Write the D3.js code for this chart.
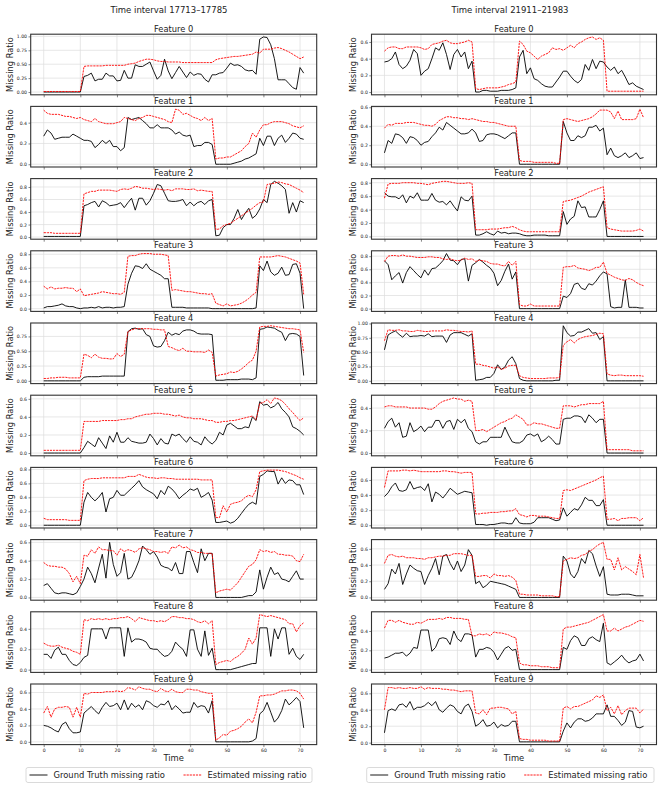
<!DOCTYPE html>
<html>
<head>
<meta charset="utf-8">
<script src="https://cdn.jsdelivr.net/npm/d3@7"></script>
<style>
  body { margin: 0; background: #fff; }
  svg { font-family: "DejaVu Sans", sans-serif; }
</style>
</head>
<body>
<script>
const width = 665;
const height = 789;

// ---- data ----
const timeSteps = d3.range(72);
const xTickValues = [0, 10, 20, 30, 40, 50, 60, 70];
const featureNames = d3.range(10).map(i => `Feature ${i}`);
const intervalTitles = ["Time interval 17713\u201317785", "Time interval 21911\u201321983"];
const legendLabels = ["Ground Truth missing ratio", "Estimated missing ratio"];
const leftTickStep = [0.25, 0.2, 0.2, 0.2, 0.25, 0.2, 0.2, 0.2, 0.2, 0.2];
const rightTickStep = [0.2, 0.2, 0.2, 0.2, 0.25, 0.2, 0.2, 0.2, 0.2, 0.2];

// interval 17713-17785, ground truth
const leftTruth = [
  [0,0,0,0,0,0,0,0,0,0,0,0.28, 0.30,0.34,0.20,0.23,0.23,0.34,0.29,0.29,0.20,0.21,0.39,0.25,
   0.25,0.49,0.46,0.46,0.50,0.54,0.38,0.23,0.30,0.59,0.38,0.24, 0.35,0.46,0.36,0.26,0.36,0.30,0.33,0.32,0.23,0.18,0.31,0.31,
   0.34,0.35,0.43,0.52,0.48,0.49,0.46,0.40,0.38,0.39,0.32,0.95, 0.99,0.98,0.85,0.60,0.22,0.22,0.22,0.15,0.08,0.05,0.44,0.34],
  [0.27,0.33,0.30,0.24,0.25,0.26,0.26,0.26,0.29,0.27,0.25,0.23, 0.23,0.22,0.16,0.19,0.23,0.20,0.23,0.17,0.17,0.13,0.16,0.45,
   0.43,0.44,0.45,0.42,0.39,0.35,0.35,0.38,0.35,0.35,0.35,0.33, 0.29,0.31,0.28,0.27,0.28,0.17,0.18,0.18,0.21,0.21,0.19,0,
   0,0,0,0,0.01,0.02,0.03,0.05,0.06,0.08,0.10,0.25, 0.18,0.27,0.27,0.18,0.25,0.28,0.21,0.25,0.30,0.29,0.25,0.24],
  [0.01,0.01,0.01,0.01,0.01,0.01,0.01,0.01,0.01,0.01,0.01,0.50, 0.52,0.55,0.57,0.48,0.58,0.55,0.50,0.51,0.52,0.55,0.47,0.55,
   0.62,0.43,0.62,0.62,0.51,0.58,0.70,0.84,0.82,0.70,0.58,0.57, 0.57,0.58,0.60,0.50,0.56,0.50,0.55,0.57,0.52,0.58,0.60,0.02,
   0.03,0.15,0.20,0.20,0.30,0.44,0.28,0.38,0.46,0.30,0.35,0.45, 0.60,0.55,0.84,0.89,0.86,0.82,0.76,0.38,0.55,0.40,0.58,0.55],
  [0.01,0.03,0.03,0.04,0.05,0.07,0.04,0.03,0.03,0.01,0,0.01, 0.01,0.02,0.01,0.03,0.01,0.02,0.02,0.01,0.02,0.02,0.03,0.36,
   0.52,0.63,0.62,0.59,0.66,0.58,0.55,0.52,0.49,0.44,0.44,0.02, 0.02,0.02,0.02,0.01,0.01,0.01,0.01,0.01,0.01,0.01,0,0,
   0,0,0,0,0,0,0,0,0,0,0.01,0.63, 0.56,0.70,0.54,0.49,0.52,0.61,0.49,0.50,0.65,0.66,0.52,0],
  [0,0,0,0,0,0,0,0,0,0,0,0.06, 0.07,0.07,0.07,0.07,0.08,0.08,0.08,0.08,0.08,0.08,0.08,0.83,
   0.88,0.89,0.87,0.88,0.78,0.75,0.59,0.57,0.58,0.68,0.82,0.77, 0.80,0.78,0.84,0.86,0.86,0.84,0.80,0.79,0.79,0.79,0.78,0.01,
   0.01,0.01,0.02,0.02,0.02,0.02,0.03,0.03,0.03,0.02,0.05,0.87, 0.88,0.91,0.90,0.89,0.85,0.82,0.68,0.79,0.80,0.79,0.75,0.09],
  [0,0,0,0,0,0,0,0,0,0,0,0.06, 0.13,0.10,0.07,0.17,0.11,0.05,0.19,0.12,0.23,0.12,0.12,0.17,
   0.13,0.12,0.11,0.11,0.12,0.21,0.16,0.09,0.16,0.11,0.10,0.21, 0.19,0.21,0.16,0.12,0.18,0.13,0.12,0.09,0.18,0.13,0.10,0.14,
   0.23,0.20,0.31,0.33,0.30,0.27,0.27,0.29,0.28,0.40,0.36,0.57, 0.53,0.54,0.50,0.52,0.56,0.49,0.45,0.40,0.29,0.27,0.24,0.20],
  [0,0,0,0,0,0,0,0,0,0,0,0.33, 0.47,0.40,0.35,0.40,0.47,0.19,0.38,0.40,0.50,0.43,0.43,0.48,
   0.53,0.58,0.64,0.55,0.51,0.48,0.45,0.38,0.50,0.44,0.56,0.52, 0.46,0.38,0.43,0.47,0.52,0.50,0.53,0.40,0.43,0.47,0.36,0.04,
   0.04,0.05,0.06,0.03,0.05,0.10,0.17,0.24,0.30,0.33,0.30,0.70, 0.73,0.78,0.77,0.77,0.59,0.68,0.60,0.65,0.64,0.58,0.58,0.44],
  [0.13,0.15,0.10,0.05,0.04,0.05,0.05,0.04,0.03,0.05,0.12,0.20, 0.33,0.26,0.16,0.32,0.47,0.21,0.60,0.36,0.23,0.27,0.48,0.20,
   0.22,0.30,0.40,0.56,0.52,0.47,0.50,0.44,0.35,0.33,0.32,0.29, 0.38,0.26,0.26,0.50,0.50,0.38,0.27,0.53,0.40,0.48,0.48,0,
   0,0,0,0,0,0,0,0.01,0.02,0.02,0.06,0.30, 0.09,0.22,0.33,0.25,0.27,0.20,0.19,0.17,0.23,0.29,0.20,0.20],
  [0.15,0.15,0.11,0.19,0.22,0.15,0.15,0.09,0.05,0.04,0.07,0.12, 0.14,0.40,0.40,0.40,0.40,0.30,0.41,0.41,0.41,0.41,0.13,0.41,
   0.27,0.30,0.30,0.29,0.27,0.21,0.20,0.20,0.16,0.13,0.14,0.18, 0.27,0.23,0.20,0.13,0.39,0.39,0.20,0.13,0.38,0.14,0.21,0,
   0,0,0,0,0.01,0.02,0.03,0.04,0.05,0.06,0.06,0.41, 0.41,0.41,0.13,0.40,0.30,0.41,0.41,0.15,0.21,0.13,0.10,0.15],
  [0.20,0.19,0.17,0.14,0.12,0.21,0.24,0.16,0.11,0.11,0.12,0.35, 0.39,0.43,0.38,0.34,0.42,0.48,0.43,0.44,0.47,0.39,0.51,0.39,
   0.47,0.42,0.45,0.39,0.50,0.48,0.44,0.42,0.46,0.45,0.50,0.39, 0.44,0.40,0.35,0.36,0.36,0.48,0.42,0.44,0.43,0.35,0.50,0,
   0,0,0,0,0,0,0,0,0,0.01,0.04,0.34, 0.38,0.48,0.36,0.24,0.29,0.38,0.52,0.45,0.49,0.54,0.49,0.17]
];

// interval 17713-17785, estimated
const leftEst = [
  [0.01,0.01,0.01,0.01,0.01,0.01,0.01,0.01,0.01,0.01,0.01,0.46, 0.47,0.47,0.47,0.47,0.47,0.48,0.48,0.48,0.48,0.48,0.48,0.50,
   0.51,0.52,0.55,0.57,0.59,0.59,0.58,0.56,0.55,0.55,0.54,0.54, 0.54,0.54,0.53,0.53,0.53,0.53,0.53,0.53,0.53,0.53,0.53,0.58,
   0.60,0.61,0.62,0.63,0.64,0.64,0.65,0.66,0.67,0.68,0.72,0.70, 0.77,0.77,0.77,0.79,0.80,0.78,0.75,0.72,0.68,0.64,0.60,0.63],
  [0.52,0.49,0.48,0.48,0.48,0.47,0.46,0.46,0.45,0.44,0.45,0.43, 0.42,0.41,0.44,0.41,0.40,0.39,0.39,0.39,0.40,0.41,0.45,0.44,
   0.43,0.42,0.44,0.45,0.47,0.47,0.46,0.45,0.44,0.43,0.41,0.40, 0.53,0.52,0.48,0.49,0.47,0.45,0.44,0.42,0.45,0.42,0.44,0.05,
   0.06,0.06,0.07,0.07,0.09,0.11,0.13,0.17,0.20,0.30,0.26,0.33, 0.38,0.38,0.40,0.41,0.41,0.41,0.40,0.39,0.37,0.36,0.35,0.37],
  [0.07,0.07,0.07,0.06,0.06,0.06,0.06,0.06,0.06,0.06,0.06,0.69, 0.71,0.73,0.73,0.75,0.75,0.75,0.75,0.74,0.73,0.76,0.77,0.76,
   0.78,0.81,0.80,0.78,0.78,0.77,0.76,0.77,0.76,0.75,0.76,0.74, 0.77,0.77,0.77,0.76,0.76,0.77,0.74,0.75,0.74,0.73,0.73,0.12,
   0.13,0.18,0.20,0.22,0.26,0.30,0.34,0.38,0.42,0.46,0.51,0.55, 0.56,0.84,0.85,0.86,0.88,0.87,0.85,0.84,0.81,0.78,0.75,0.71],
  [0.33,0.29,0.32,0.29,0.30,0.30,0.31,0.30,0.30,0.25,0.29,0.19, 0.20,0.21,0.22,0.23,0.25,0.24,0.23,0.22,0.22,0.21,0.24,0.77,
   0.78,0.78,0.80,0.81,0.81,0.81,0.80,0.80,0.80,0.79,0.78,0.27, 0.28,0.27,0.26,0.25,0.25,0.24,0.23,0.22,0.22,0.21,0.22,0.08,
   0.06,0.04,0.07,0.04,0.05,0.06,0.08,0.11,0.15,0.20,0.24,0.76, 0.76,0.76,0.76,0.77,0.78,0.77,0.76,0.74,0.72,0.70,0.67,0.21],
  [0.04,0.04,0.05,0.05,0.06,0.06,0.06,0.05,0.05,0.05,0.05,0.45, 0.43,0.39,0.45,0.40,0.38,0.38,0.37,0.37,0.46,0.41,0.45,0.83,
   0.86,0.88,0.88,0.88,0.88,0.88,0.87,0.87,0.86,0.86,0.58,0.56, 0.53,0.51,0.55,0.50,0.50,0.49,0.49,0.49,0.48,0.52,0.48,0.08,
   0.10,0.11,0.12,0.15,0.14,0.16,0.20,0.25,0.31,0.35,0.50,0.91, 0.92,0.92,0.93,0.92,0.91,0.90,0.89,0.88,0.88,0.87,0.86,0.48],
  [0.03,0.03,0.03,0.03,0.03,0.03,0.03,0.03,0.03,0.03,0.03,0.35, 0.35,0.35,0.35,0.35,0.36,0.36,0.36,0.36,0.36,0.37,0.37,0.38,
   0.38,0.40,0.41,0.42,0.43,0.43,0.44,0.44,0.44,0.43,0.43,0.42, 0.41,0.42,0.40,0.39,0.39,0.38,0.38,0.38,0.37,0.36,0.36,0.34,
   0.34,0.35,0.35,0.36,0.36,0.37,0.38,0.39,0.40,0.41,0.37,0.55, 0.56,0.59,0.55,0.61,0.60,0.58,0.54,0.49,0.45,0.40,0.36,0.39],
  [0.10,0.08,0.08,0.08,0.08,0.08,0.08,0.07,0.07,0.07,0.07,0.64, 0.66,0.67,0.67,0.67,0.68,0.68,0.68,0.68,0.68,0.68,0.68,0.70,
   0.70,0.70,0.73,0.71,0.69,0.68,0.68,0.67,0.68,0.68,0.67,0.67, 0.66,0.66,0.66,0.66,0.66,0.66,0.66,0.65,0.65,0.65,0.65,0.11,
   0.11,0.28,0.19,0.30,0.32,0.33,0.35,0.40,0.43,0.41,0.51,0.77, 0.78,0.79,0.79,0.79,0.79,0.78,0.77,0.75,0.73,0.71,0.68,0.66],
  [0.38,0.35,0.34,0.34,0.33,0.33,0.31,0.26,0.17,0.23,0.15,0.46, 0.45,0.52,0.48,0.55,0.52,0.52,0.51,0.51,0.46,0.53,0.50,0.52,
   0.51,0.49,0.53,0.54,0.53,0.52,0.50,0.50,0.49,0.50,0.48,0.55, 0.54,0.57,0.54,0.55,0.52,0.51,0.49,0.49,0.48,0.48,0.48,0.05,
   0.07,0.08,0.09,0.08,0.12,0.16,0.22,0.28,0.34,0.36,0.41,0.52, 0.50,0.51,0.49,0.50,0.47,0.47,0.46,0.46,0.45,0.40,0.39,0.47],
  [0.26,0.24,0.23,0.23,0.24,0.22,0.21,0.20,0.18,0.17,0.15,0.49, 0.48,0.50,0.49,0.50,0.49,0.50,0.49,0.50,0.50,0.51,0.51,0.52,
   0.50,0.47,0.51,0.50,0.49,0.48,0.48,0.47,0.48,0.47,0.49,0.52, 0.52,0.51,0.51,0.50,0.50,0.49,0.47,0.46,0.48,0.45,0.48,0.05,
   0.07,0.08,0.09,0.08,0.11,0.13,0.16,0.20,0.31,0.25,0.31,0.54, 0.53,0.52,0.53,0.52,0.51,0.50,0.49,0.45,0.45,0.37,0.43,0.46],
  [0.35,0.43,0.30,0.40,0.42,0.42,0.43,0.42,0.30,0.42,0.30,0.59, 0.58,0.60,0.60,0.60,0.60,0.61,0.61,0.61,0.62,0.61,0.62,0.66,
   0.65,0.63,0.67,0.65,0.64,0.64,0.62,0.61,0.65,0.62,0.61,0.64, 0.61,0.60,0.60,0.64,0.64,0.63,0.63,0.61,0.60,0.59,0.59,0.02,
   0.05,0.09,0.08,0.13,0.14,0.16,0.19,0.24,0.28,0.23,0.36,0.56, 0.56,0.57,0.57,0.58,0.60,0.62,0.62,0.63,0.63,0.62,0.59,0.52]
];

// interval 21911-21983, ground truth
const rightTruth = [
  [0.36,0.37,0.40,0.48,0.33,0.28,0.31,0.38,0.51,0.46,0.20,0.25, 0.28,0.40,0.53,0.50,0.59,0.45,0.27,0.45,0.51,0.42,0.48,0.28,
   0.37,0,0,0.02,0.02,0.01,0.01,0.01,0.02,0.02,0.02,0.03, 0.05,0.42,0.50,0.22,0.29,0.16,0.14,0.10,0.07,0.06,0.06,0.12,
   0.18,0.25,0.25,0.19,0.14,0.11,0.15,0.33,0.26,0.39,0.28,0.37, 0.36,0.30,0.26,0.30,0.22,0.26,0.18,0.09,0.11,0.07,0.05,0.03],
  [0.12,0.25,0.22,0.32,0.31,0.28,0.22,0.29,0.28,0.25,0.20,0.23, 0.24,0.29,0.33,0.39,0.36,0.44,0.41,0.38,0.35,0.32,0.32,0.33,
   0.37,0.33,0.24,0.25,0.31,0.32,0.32,0.31,0.29,0.27,0.30,0.33, 0.33,0,0,0,0,0,0,0,0,0,0,0,
   0,0.45,0.33,0.25,0.25,0.30,0.28,0.30,0.39,0.39,0.41,0.35, 0.38,0.10,0.17,0.09,0.07,0.09,0.12,0.07,0.09,0.12,0.06,0.07],
  [0.65,0.60,0.59,0.59,0.56,0.62,0.50,0.60,0.57,0.65,0.54,0.54, 0.54,0.64,0.54,0.51,0.52,0.47,0.53,0.45,0.38,0.59,0.54,0.53,
   0.60,0.02,0.02,0.04,0.07,0.04,0.02,0.08,0.05,0.06,0.04,0.05, 0.05,0.04,0.02,0.01,0.01,0.02,0.02,0.02,0.02,0.01,0.01,0.01,
   0.01,0.37,0.18,0.26,0.30,0.53,0.43,0.44,0.29,0.29,0.29,0.40, 0.53,0,0,0,0,0,0,0,0,0,0,0],
  [0.73,0.67,0.44,0.50,0.55,0.39,0.55,0.64,0.58,0.52,0.47,0.59, 0.51,0.61,0.62,0.67,0.73,0.84,0.74,0.73,0.67,0.75,0.76,0.42,
   0.66,0.70,0.75,0.71,0.66,0.62,0.54,0.35,0.43,0.57,0.68,0.45, 0.56,0,0,0,0,0,0,0,0,0,0,0,
   0,0.19,0.17,0.23,0.37,0.39,0.31,0.29,0.38,0.36,0.42,0.50, 0.56,0.53,0.03,0.01,0.02,0.02,0.44,0.02,0.02,0.02,0.01,0.01],
  [0.54,0.80,0.84,0.87,0.81,0.76,0.83,0.77,0.78,0.78,0.79,0.78, 0.82,0.77,0.78,0.78,0.78,0.67,0.80,0.84,0.84,0.84,0.81,0.78,
   0.82,0.01,0.02,0.03,0.06,0.06,0.13,0.28,0.20,0.24,0.36,0.42, 0.30,0.04,0.01,0,0,0,0,0,0,0,0,0.01,
   0.01,0.96,0.84,0.78,0.79,0.85,0.85,0.88,0.91,0.83,0.84,0.72, 0.77,0,0,0,0,0,0,0,0,0,0,0],
  [0.22,0.28,0.31,0.23,0.27,0.14,0.15,0.27,0.19,0.21,0.24,0.19, 0.23,0.23,0.29,0.29,0.22,0.28,0.29,0.21,0.30,0.27,0.30,0.22,
   0.19,0.10,0.08,0.10,0.10,0.14,0.14,0.14,0.14,0.23,0.16,0.10, 0.09,0.09,0.11,0.16,0.17,0.15,0.17,0.10,0.12,0.15,0.12,0.08,
   0.08,0.30,0.31,0.31,0.33,0.33,0.32,0.27,0.34,0.31,0.27,0.30, 0.30,0,0,0,0,0,0,0,0,0,0,0],
  [0.38,0.43,0.51,0.56,0.46,0.45,0.47,0.58,0.48,0.50,0.51,0.46, 0.55,0.31,0.44,0.41,0.36,0.42,0.49,0.45,0.41,0.43,0.45,0.44,
   0.43,0.01,0.01,0.01,0,0.01,0.01,0.02,0.03,0.03,0.02,0.02, 0.10,0.03,0.02,0.02,0.02,0.04,0.10,0.10,0.10,0.10,0.08,0.06,
   0.07,0.23,0.12,0.17,0.22,0.20,0.27,0.37,0.33,0.33,0.26,0.26, 0.34,0,0,0,0,0,0,0,0,0,0,0],
  [0.10,0.17,0.35,0.29,0.42,0.16,0.29,0.40,0.36,0.33,0.32,0.16, 0.27,0.36,0.48,0.28,0.51,0.53,0.42,0.34,0.45,0.32,0.40,0.59,
   0.52,0.17,0.20,0.12,0.15,0.20,0.19,0.18,0.17,0.16,0.14,0.12, 0.10,0,0,0,0,0,0,0,0,0,0,0,
   0,0.51,0.45,0.29,0.24,0.32,0.48,0.42,0.58,0.54,0.39,0.26, 0.38,0.04,0.03,0.03,0.03,0.04,0.04,0.04,0.03,0.02,0.02,0.02],
  [0.12,0.13,0.15,0.17,0.17,0.18,0.14,0.17,0.23,0.22,0.41,0.41, 0.41,0.19,0.23,0.32,0.33,0.32,0.26,0.40,0.32,0.29,0.37,0.37,
   0.36,0.13,0.21,0.21,0.23,0.22,0.18,0.10,0.16,0.22,0.24,0.20, 0.21,0,0,0,0,0,0,0,0,0,0,0,
   0,0.23,0.21,0.30,0.35,0.33,0.25,0.25,0.32,0.34,0.31,0.29, 0.48,0.07,0.05,0.08,0.11,0.15,0.10,0.07,0.09,0.10,0.16,0.09],
  [0.12,0.39,0.41,0.39,0.46,0.47,0.43,0.50,0.40,0.43,0.43,0.45, 0.49,0.45,0.50,0.40,0.37,0.42,0.46,0.44,0.38,0.35,0.44,0.47,
   0.38,0.20,0.23,0.28,0.20,0.21,0.25,0.18,0.22,0.20,0.21,0.26, 0.26,0.01,0.01,0.01,0.01,0.01,0.01,0.01,0.01,0.01,0.01,0.01,
   0.01,0.14,0.24,0.18,0.25,0.29,0.29,0.26,0.27,0.30,0.35,0.35, 0.35,0.46,0.32,0.32,0.27,0.21,0.25,0.39,0.38,0.19,0.18,0.20]
];

// interval 21911-21983, estimated
const rightEst = [
  [0.49,0.53,0.54,0.54,0.52,0.52,0.54,0.54,0.54,0.54,0.53,0.51, 0.52,0.57,0.58,0.59,0.61,0.62,0.59,0.58,0.58,0.59,0.60,0.62,
   0.60,0.04,0.03,0.04,0.05,0.05,0.05,0.05,0.06,0.07,0.09,0.10, 0.12,0.61,0.57,0.49,0.47,0.43,0.39,0.43,0.45,0.47,0.53,0.51,
   0.52,0.50,0.53,0.56,0.53,0.58,0.60,0.63,0.65,0.66,0.63,0.65, 0.62,0.01,0.01,0.01,0.01,0.01,0.01,0.01,0.01,0.01,0.01,0.01],
  [0.38,0.42,0.41,0.43,0.43,0.43,0.44,0.44,0.44,0.43,0.42,0.41, 0.41,0.40,0.42,0.46,0.48,0.50,0.50,0.49,0.49,0.48,0.48,0.47,
   0.48,0.47,0.46,0.45,0.45,0.44,0.44,0.43,0.42,0.41,0.40,0.40, 0.40,0.04,0.03,0.03,0.03,0.02,0.02,0.02,0.02,0.02,0.02,0.01,
   0.01,0.47,0.48,0.47,0.46,0.45,0.46,0.47,0.48,0.50,0.53,0.57, 0.57,0.57,0.55,0.48,0.56,0.47,0.47,0.47,0.47,0.48,0.58,0.49],
  [0.57,0.78,0.79,0.79,0.79,0.80,0.80,0.80,0.80,0.79,0.79,0.78, 0.77,0.79,0.80,0.81,0.82,0.82,0.81,0.80,0.79,0.79,0.79,0.80,
   0.79,0.10,0.10,0.10,0.10,0.11,0.11,0.11,0.12,0.13,0.13,0.15, 0.13,0.10,0.08,0.07,0.07,0.07,0.07,0.07,0.07,0.07,0.07,0.07,
   0.07,0.52,0.53,0.54,0.56,0.58,0.60,0.63,0.66,0.68,0.70,0.72, 0.74,0.13,0.11,0.10,0.09,0.08,0.08,0.08,0.08,0.09,0.11,0.08],
  [0.72,0.80,0.81,0.81,0.80,0.82,0.80,0.80,0.79,0.78,0.78,0.78, 0.79,0.79,0.78,0.78,0.76,0.75,0.76,0.74,0.73,0.74,0.77,0.75,
   0.76,0.72,0.74,0.73,0.72,0.69,0.68,0.68,0.66,0.65,0.72,0.66, 0.72,0.06,0.04,0.04,0.07,0.04,0.04,0.04,0.04,0.04,0.04,0.04,
   0.04,0.63,0.64,0.64,0.66,0.62,0.61,0.60,0.58,0.60,0.63,0.63, 0.71,0.54,0.51,0.48,0.46,0.44,0.43,0.46,0.44,0.40,0.37,0.35],
  [0.70,0.89,0.88,0.88,0.89,0.87,0.87,0.86,0.86,0.88,0.87,0.86, 0.86,0.87,0.87,0.87,0.87,0.89,0.88,0.88,0.87,0.86,0.86,0.85,
   0.87,0.29,0.29,0.27,0.26,0.24,0.22,0.24,0.20,0.22,0.26,0.27, 0.27,0.09,0.06,0.05,0.04,0.04,0.04,0.04,0.04,0.05,0.05,0.05,
   0.06,0.62,0.68,0.72,0.66,0.72,0.75,0.77,0.78,0.79,0.81,0.83, 0.82,0.12,0.10,0.09,0.10,0.10,0.09,0.09,0.09,0.09,0.09,0.08],
  [0.41,0.42,0.42,0.41,0.41,0.41,0.41,0.40,0.40,0.40,0.40,0.40, 0.39,0.39,0.41,0.44,0.46,0.47,0.48,0.49,0.48,0.48,0.46,0.47,
   0.46,0.20,0.20,0.21,0.19,0.21,0.23,0.25,0.27,0.28,0.30,0.31, 0.34,0.32,0.30,0.25,0.25,0.27,0.26,0.26,0.25,0.24,0.23,0.22,
   0.22,0.42,0.42,0.42,0.41,0.42,0.43,0.43,0.44,0.44,0.44,0.44, 0.46,0.03,0.03,0.03,0.03,0.03,0.03,0.03,0.02,0.02,0.02,0.02],
  [0.50,0.72,0.72,0.72,0.72,0.73,0.73,0.72,0.73,0.72,0.71,0.71, 0.71,0.71,0.71,0.71,0.72,0.72,0.71,0.71,0.70,0.69,0.70,0.70,
   0.70,0.15,0.15,0.16,0.16,0.17,0.17,0.17,0.18,0.18,0.19,0.19, 0.22,0.14,0.13,0.11,0.13,0.13,0.12,0.12,0.12,0.11,0.10,0.09,
   0.09,0.46,0.47,0.46,0.48,0.50,0.52,0.54,0.56,0.58,0.60,0.63, 0.65,0.08,0.08,0.09,0.06,0.09,0.09,0.10,0.10,0.10,0.06,0.10],
  [0.42,0.52,0.53,0.51,0.50,0.51,0.49,0.49,0.49,0.48,0.48,0.47, 0.49,0.49,0.50,0.51,0.51,0.52,0.52,0.54,0.54,0.54,0.53,0.52,
   0.52,0.26,0.26,0.27,0.27,0.24,0.29,0.27,0.27,0.26,0.27,0.25, 0.21,0.04,0.04,0.03,0.03,0.03,0.03,0.02,0.02,0.02,0.02,0.01,
   0.01,0.45,0.47,0.49,0.48,0.49,0.52,0.53,0.57,0.59,0.63,0.66, 0.68,0.47,0.47,0.34,0.49,0.34,0.38,0.35,0.32,0.28,0.53,0.24],
  [0.43,0.51,0.51,0.49,0.51,0.49,0.48,0.47,0.47,0.49,0.48,0.50, 0.52,0.52,0.52,0.53,0.52,0.54,0.54,0.53,0.53,0.53,0.52,0.52,
   0.35,0.35,0.37,0.36,0.37,0.35,0.39,0.38,0.38,0.37,0.36,0.34, 0.33,0.07,0.05,0.05,0.04,0.04,0.04,0.03,0.03,0.03,0.02,0.02,
   0.02,0.42,0.44,0.44,0.45,0.46,0.47,0.48,0.49,0.51,0.53,0.55, 0.57,0.40,0.40,0.43,0.40,0.42,0.44,0.45,0.47,0.49,0.51,0.50],
  [0.40,0.67,0.67,0.66,0.67,0.66,0.66,0.67,0.66,0.66,0.68,0.65, 0.67,0.66,0.66,0.66,0.65,0.65,0.64,0.64,0.63,0.62,0.63,0.63,
   0.63,0.36,0.35,0.40,0.34,0.42,0.42,0.43,0.43,0.42,0.41,0.35, 0.38,0.05,0.04,0.04,0.03,0.03,0.03,0.03,0.03,0.02,0.02,0.02,
   0.02,0.42,0.44,0.41,0.44,0.44,0.46,0.48,0.50,0.52,0.57,0.55, 0.58,0.39,0.43,0.35,0.45,0.34,0.39,0.42,0.42,0.42,0.36,0.41]
];

// ---- layout ----
const columns = [
  { title: intervalTitles[0], truth: leftTruth, est: leftEst, tickStep: leftTickStep,
    left: 30.7, right: 316.7, yLabelX: 10, titleX: 169, legendBox: [26, 312] },
  { title: intervalTitles[1], truth: rightTruth, est: rightEst, tickStep: rightTickStep,
    left: 371.5, right: 656.5, yLabelX: 353, titleX: 510, legendBox: [366.7, 654] }
];
const panelTop = 34.2, panelPitch = 72.2, panelH = 60.6;

const svg = d3.select("body")
  .append("svg")
  .attr("width", width)
  .attr("height", height)
  .attr("viewBox", [0, 0, width, height]);

const textColor = "#222";
const estDash = "2.2,0.9";

columns.forEach(col => {
  const x = d3.scaleLinear().domain([-3.55, 74.55]).range([col.left, col.right]);

  svg.append("text")
    .attr("x", col.titleX).attr("y", 13)
    .attr("text-anchor", "middle")
    .attr("font-size", 8.5).attr("fill", textColor)
    .text(col.title);

  d3.range(10).forEach(i => {
    const top = panelTop + i * panelPitch;
    const bottom = top + panelH;
    const truth = col.truth[i], est = col.est[i];
    const [lo, hi] = d3.extent(truth.concat(est));
    const pad = (hi - lo) * 0.05;
    const y = d3.scaleLinear().domain([lo - pad, hi + pad]).range([bottom, top]);
    const step = col.tickStep[i];
    const yTicks = d3.range(0, hi + pad + 1e-9, step).filter(v => v >= lo - pad);
    const fmt = step === 0.25 ? d3.format(".2f") : d3.format(".1f");

    const g = svg.append("g");

    // grid
    g.append("g").selectAll("line").data(xTickValues).join("line")
      .attr("x1", d => x(d)).attr("x2", d => x(d))
      .attr("y1", top).attr("y2", bottom)
      .attr("stroke", "#dcdcdc").attr("stroke-width", 0.7);
    g.append("g").selectAll("line").data(yTicks).join("line")
      .attr("x1", col.left).attr("x2", col.right)
      .attr("y1", d => y(d)).attr("y2", d => y(d))
      .attr("stroke", "#dcdcdc").attr("stroke-width", 0.7);

    // axes
    const yAxis = g.append("g")
      .attr("transform", `translate(${col.left},0)`)
      .call(d3.axisLeft(y).tickValues(yTicks).tickFormat(fmt).tickSize(2.2).tickPadding(1.5));
    const xAxis = g.append("g")
      .attr("transform", `translate(0,${bottom})`)
      .call(d3.axisBottom(x).tickValues(xTickValues).tickSize(2.5).tickPadding(1.5)
        .tickFormat(i === 9 ? d3.format("d") : () => ""));
    [yAxis, xAxis].forEach(a => {
      a.select(".domain").remove();
      a.selectAll(".tick line").attr("stroke", "#333").attr("stroke-width", 0.6);
      a.selectAll(".tick text").attr("font-size", 4.6).attr("fill", textColor)
        .attr("font-family", "DejaVu Sans");
    });

    // series
    const line = d3.line().x((d, j) => x(timeSteps[j])).y(d => y(d));
    g.append("path").datum(truth)
      .attr("d", line).attr("fill", "none")
      .attr("stroke", "#000").attr("stroke-width", 0.9)
      .attr("stroke-linejoin", "round");
    g.append("path").datum(est)
      .attr("d", line).attr("fill", "none")
      .attr("stroke", "#ff0000").attr("stroke-width", 0.9)
      .attr("stroke-dasharray", estDash);

    // frame
    g.append("rect")
      .attr("x", col.left).attr("y", top)
      .attr("width", col.right - col.left).attr("height", panelH)
      .attr("fill", "none").attr("stroke", "#333").attr("stroke-width", 1.1);

    // labels
    g.append("text")
      .attr("x", (col.left + col.right) / 2).attr("y", top - 2.5)
      .attr("text-anchor", "middle").attr("font-size", 8.3).attr("fill", textColor)
      .text(featureNames[i]);
    g.append("text")
      .attr("transform", `translate(${col.yLabelX + 3},${(top + bottom) / 2}) rotate(-90)`)
      .attr("text-anchor", "middle").attr("font-size", 8.3).attr("fill", textColor)
      .text("Missing Ratio");
  });

  // x label
  svg.append("text")
    .attr("x", (col.left + col.right) / 2).attr("y", 761)
    .attr("text-anchor", "middle").attr("font-size", 8.4).attr("fill", textColor)
    .text("Time");

  // legend
  const [lx0, lx1] = col.legendBox;
  const leg = svg.append("g");
  leg.append("rect")
    .attr("x", lx0).attr("y", 767.5).attr("width", lx1 - lx0).attr("height", 15)
    .attr("rx", 2).attr("fill", "#fff").attr("stroke", "#d0d0d0").attr("stroke-width", 0.8);
  const itemX = [lx0 + 3.5, lx0 + 157.5];
  const styles = [{ stroke: "#000", dash: null }, { stroke: "#ff0000", dash: estDash }];
  legendLabels.forEach((label, k) => {
    leg.append("line")
      .attr("x1", itemX[k]).attr("x2", itemX[k] + 18)
      .attr("y1", 775).attr("y2", 775)
      .attr("stroke", styles[k].stroke).attr("stroke-width", 0.9)
      .attr("stroke-dasharray", styles[k].dash);
    leg.append("text")
      .attr("x", itemX[k] + 24).attr("y", 778)
      .attr("font-size", 8.4).attr("fill", textColor)
      .text(label);
  });
});
</script>
</body>
</html>
